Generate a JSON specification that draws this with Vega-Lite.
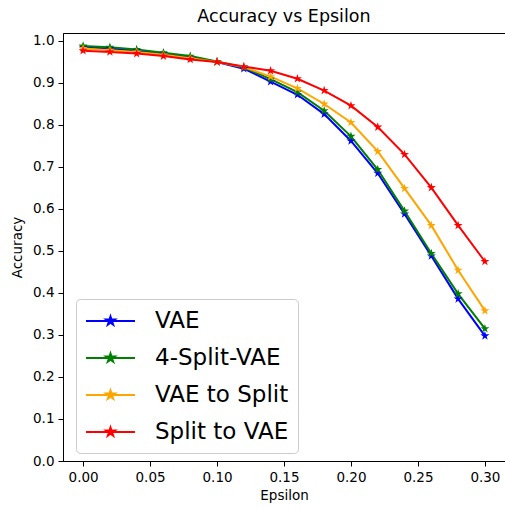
{
  "$schema": "https://vega.github.io/schema/vega-lite/v6.json",
  "width": 442,
  "height": 428,
  "autosize": {"type": "none"},
  "padding": {"left": 63, "top": 33, "right": 0, "bottom": 48},
  "config": {
    "font": "DejaVu Sans",
    "view": {"stroke": "black", "strokeWidth": 1},
    "axis": {"grid": false, "domainColor": "black", "tickColor": "black", "labelColor": "black", "titleColor": "black", "labelFontSize": 13.5, "titleFontSize": 13.5, "titleFontWeight": "normal", "tickSize": 5, "labelPadding": 4, "domainWidth": 1, "tickWidth": 1}
  },
  "title": {"text": "Accuracy vs Epsilon", "fontSize": 17.5, "fontWeight": "normal", "color": "black", "offset": 8},
  "data": {
    "values": [
      {"eps": 0.00, "model": "VAE", "acc": 0.985},
      {"eps": 0.02, "model": "VAE", "acc": 0.982},
      {"eps": 0.04, "model": "VAE", "acc": 0.977},
      {"eps": 0.06, "model": "VAE", "acc": 0.970},
      {"eps": 0.08, "model": "VAE", "acc": 0.961},
      {"eps": 0.10, "model": "VAE", "acc": 0.950},
      {"eps": 0.12, "model": "VAE", "acc": 0.934},
      {"eps": 0.14, "model": "VAE", "acc": 0.903},
      {"eps": 0.16, "model": "VAE", "acc": 0.872},
      {"eps": 0.18, "model": "VAE", "acc": 0.826},
      {"eps": 0.20, "model": "VAE", "acc": 0.762},
      {"eps": 0.22, "model": "VAE", "acc": 0.685},
      {"eps": 0.24, "model": "VAE", "acc": 0.588},
      {"eps": 0.26, "model": "VAE", "acc": 0.488},
      {"eps": 0.28, "model": "VAE", "acc": 0.386},
      {"eps": 0.30, "model": "VAE", "acc": 0.298},
      {"eps": 0.00, "model": "4-Split-VAE", "acc": 0.988},
      {"eps": 0.02, "model": "4-Split-VAE", "acc": 0.985},
      {"eps": 0.04, "model": "4-Split-VAE", "acc": 0.980},
      {"eps": 0.06, "model": "4-Split-VAE", "acc": 0.972},
      {"eps": 0.08, "model": "4-Split-VAE", "acc": 0.964},
      {"eps": 0.10, "model": "4-Split-VAE", "acc": 0.951},
      {"eps": 0.12, "model": "4-Split-VAE", "acc": 0.937},
      {"eps": 0.14, "model": "4-Split-VAE", "acc": 0.909},
      {"eps": 0.16, "model": "4-Split-VAE", "acc": 0.878},
      {"eps": 0.18, "model": "4-Split-VAE", "acc": 0.834},
      {"eps": 0.20, "model": "4-Split-VAE", "acc": 0.773},
      {"eps": 0.22, "model": "4-Split-VAE", "acc": 0.694},
      {"eps": 0.24, "model": "4-Split-VAE", "acc": 0.595},
      {"eps": 0.26, "model": "4-Split-VAE", "acc": 0.494},
      {"eps": 0.28, "model": "4-Split-VAE", "acc": 0.398},
      {"eps": 0.30, "model": "4-Split-VAE", "acc": 0.315},
      {"eps": 0.00, "model": "VAE to Split", "acc": 0.982},
      {"eps": 0.02, "model": "VAE to Split", "acc": 0.978},
      {"eps": 0.04, "model": "VAE to Split", "acc": 0.974},
      {"eps": 0.06, "model": "VAE to Split", "acc": 0.967},
      {"eps": 0.08, "model": "VAE to Split", "acc": 0.959},
      {"eps": 0.10, "model": "VAE to Split", "acc": 0.950},
      {"eps": 0.12, "model": "VAE to Split", "acc": 0.938},
      {"eps": 0.14, "model": "VAE to Split", "acc": 0.915},
      {"eps": 0.16, "model": "VAE to Split", "acc": 0.887},
      {"eps": 0.18, "model": "VAE to Split", "acc": 0.850},
      {"eps": 0.20, "model": "VAE to Split", "acc": 0.806},
      {"eps": 0.22, "model": "VAE to Split", "acc": 0.737},
      {"eps": 0.24, "model": "VAE to Split", "acc": 0.649},
      {"eps": 0.26, "model": "VAE to Split", "acc": 0.561},
      {"eps": 0.28, "model": "VAE to Split", "acc": 0.454},
      {"eps": 0.30, "model": "VAE to Split", "acc": 0.358},
      {"eps": 0.00, "model": "Split to VAE", "acc": 0.977},
      {"eps": 0.02, "model": "Split to VAE", "acc": 0.974},
      {"eps": 0.04, "model": "Split to VAE", "acc": 0.970},
      {"eps": 0.06, "model": "Split to VAE", "acc": 0.964},
      {"eps": 0.08, "model": "Split to VAE", "acc": 0.956},
      {"eps": 0.10, "model": "Split to VAE", "acc": 0.950},
      {"eps": 0.12, "model": "Split to VAE", "acc": 0.939},
      {"eps": 0.14, "model": "Split to VAE", "acc": 0.929},
      {"eps": 0.16, "model": "Split to VAE", "acc": 0.910},
      {"eps": 0.18, "model": "Split to VAE", "acc": 0.882},
      {"eps": 0.20, "model": "Split to VAE", "acc": 0.846},
      {"eps": 0.22, "model": "Split to VAE", "acc": 0.795},
      {"eps": 0.24, "model": "Split to VAE", "acc": 0.730},
      {"eps": 0.26, "model": "Split to VAE", "acc": 0.651},
      {"eps": 0.28, "model": "Split to VAE", "acc": 0.561},
      {"eps": 0.30, "model": "Split to VAE", "acc": 0.475}
    ]
  },
  "encoding": {
    "x": {"field": "eps", "type": "quantitative", "title": "Epsilon",
      "scale": {"domain": [-0.015, 0.315], "nice": false, "zero": false},
      "axis": {"values": [0, 0.05, 0.1, 0.15, 0.2, 0.25, 0.3], "format": ".2f", "titlePadding": 5}},
    "y": {"field": "acc", "type": "quantitative", "title": "Accuracy",
      "scale": {"domain": [0, 1.019], "nice": false},
      "axis": {"values": [0, 0.1, 0.2, 0.3, 0.4, 0.5, 0.6, 0.7, 0.8, 0.9, 1.0], "format": ".1f", "titlePadding": 8}},
    "color": {"field": "model", "type": "nominal",
      "scale": {"domain": ["VAE", "4-Split-VAE", "VAE to Split", "Split to VAE"], "range": ["#0000ff", "#008000", "#ffa500", "#ff0000"]},
      "legend": {
        "title": null, "orient": "none", "legendX": 13, "legendY": 266,
        "symbolType": "M-1,0L3.083,0M1.042,-0.375L1.126,-0.116L1.399,-0.116L1.178,0.044L1.263,0.303L1.042,0.143L0.821,0.303L0.906,0.044L0.685,-0.116L0.958,-0.116Z",
        "symbolSize": 576, "symbolStrokeWidth": 2,
        "labelFontSize": 23, "labelColor": "black", "labelOffset": 44, "rowPadding": 12,
        "padding": 9, "strokeColor": "#cccccc", "fillColor": "rgba(255,255,255,0.8)", "cornerRadius": 4,
        "encode": {"symbols": {"update": {"fill": {"scale": "color", "field": "value"}, "stroke": {"scale": "color", "field": "value"}}}}
      }
    }
  },
  "layer": [
    {"mark": {"type": "line", "strokeWidth": 2}, "encoding": {}},
    {"mark": {"type": "point", "shape": "M0,-1L0.225,-0.309L0.951,-0.309L0.363,0.118L0.588,0.809L0,0.382L-0.588,0.809L-0.363,0.118L-0.951,-0.309L-0.225,-0.309Z", "filled": true, "size": 90, "opacity": 1, "strokeWidth": 1}, "encoding": {}}
  ]
}
